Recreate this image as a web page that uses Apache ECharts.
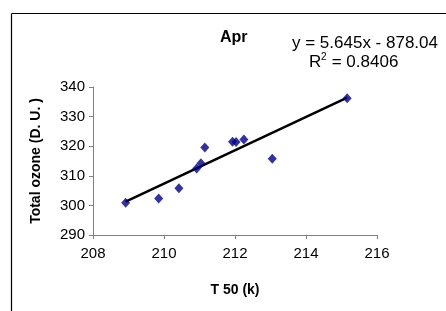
<!DOCTYPE html>
<html><head><meta charset="utf-8">
<script src="https://cdn.jsdelivr.net/npm/echarts@6/dist/echarts.min.js"></script>
<style>html,body{margin:0;padding:0;background:#fff}#c{width:446px;height:311px}</style>
</head><body><div id="c"></div>
<script>
var t50 = [208.92, 209.85, 210.42, 210.92, 211.04, 211.15, 211.93, 212.03, 212.25, 213.05, 215.16];
var ozone = [300.9, 302.3, 305.8, 312.5, 314.2, 319.6, 321.5, 321.4, 322.3, 315.8, 336.2];
var trendX = [208.92, 215.16];
var trendY = [301.3, 336.4];
var xTicks = {min: 208, max: 216, step: 2};
var yTicks = {min: 290, max: 340, step: 10};
var titleText = 'Apr';
var eqText = 'y = 5.645x - 878.04';
var r2Value = '0.8406';

var pts = t50.map(function (x, i) { return [x, ozone[i]]; });
var trend = trendX.map(function (x, i) { return [x, trendY[i]]; });
var F = '"Liberation Sans", Arial, sans-serif';
var chart = echarts.init(document.getElementById('c'), null, {renderer: 'canvas'});
chart.setOption({
  animation: false,
  backgroundColor: '#fff',
  grid: {left: 93, right: 69, top: 87, bottom: 76},
  xAxis: {
    type: 'value', min: xTicks.min, max: xTicks.max, interval: xTicks.step,
    name: 'T 50 (k)', nameLocation: 'middle', nameGap: 48,
    nameTextStyle: {fontFamily: F, fontWeight: 'bold', fontSize: 14, color: '#000'},
    axisLine: {lineStyle: {color: '#808080', width: 1}},
    axisTick: {length: 4, lineStyle: {color: '#808080'}},
    axisLabel: {fontFamily: F, fontSize: 15, color: '#000', margin: 11},
    splitLine: {show: false}
  },
  yAxis: {
    type: 'value', min: yTicks.min, max: yTicks.max, interval: yTicks.step,
    name: 'Total ozone (D. U. )', nameLocation: 'middle', nameGap: 50,
    nameTextStyle: {fontFamily: F, fontWeight: 'bold', fontSize: 14, color: '#000'},
    axisLine: {show: true, lineStyle: {color: '#808080', width: 1}},
    axisTick: {show: true, length: 4, lineStyle: {color: '#808080'}},
    axisLabel: {fontFamily: F, fontSize: 15, color: '#000', margin: 8},
    splitLine: {show: false}
  },
  series: [
    {type: 'line', data: trend, symbol: 'none', lineStyle: {color: '#000', width: 2.5}, z: 2},
    {type: 'scatter', data: pts, symbol: 'diamond', symbolSize: [9, 10], itemStyle: {color: '#000080'}, z: 3}
  ],
  graphic: [
    {type: 'line', shape: {x1: 11.5, y1: 13.5, x2: 446, y2: 13.5}, style: {stroke: '#000', lineWidth: 1.2}},
    {type: 'line', shape: {x1: 11.5, y1: 13.5, x2: 11.5, y2: 311}, style: {stroke: '#000', lineWidth: 1.2}},
    {type: 'text', left: 220, top: 30, style: {text: titleText, font: 'bold 16px ' + F, fill: '#000'}},
    {type: 'text', right: 8, top: 35, style: {text: eqText, font: '17px ' + F, fill: '#000'}},
    {type: 'text', left: 309, top: 54, style: {text: 'R', font: '17px ' + F, fill: '#000'}},
    {type: 'text', left: 321, top: 52, style: {text: '2', font: '10px ' + F, fill: '#000'}},
    {type: 'text', left: 327, top: 54, style: {text: ' = ' + r2Value, font: '17px ' + F, fill: '#000'}}
  ]
});
</script></body></html>
